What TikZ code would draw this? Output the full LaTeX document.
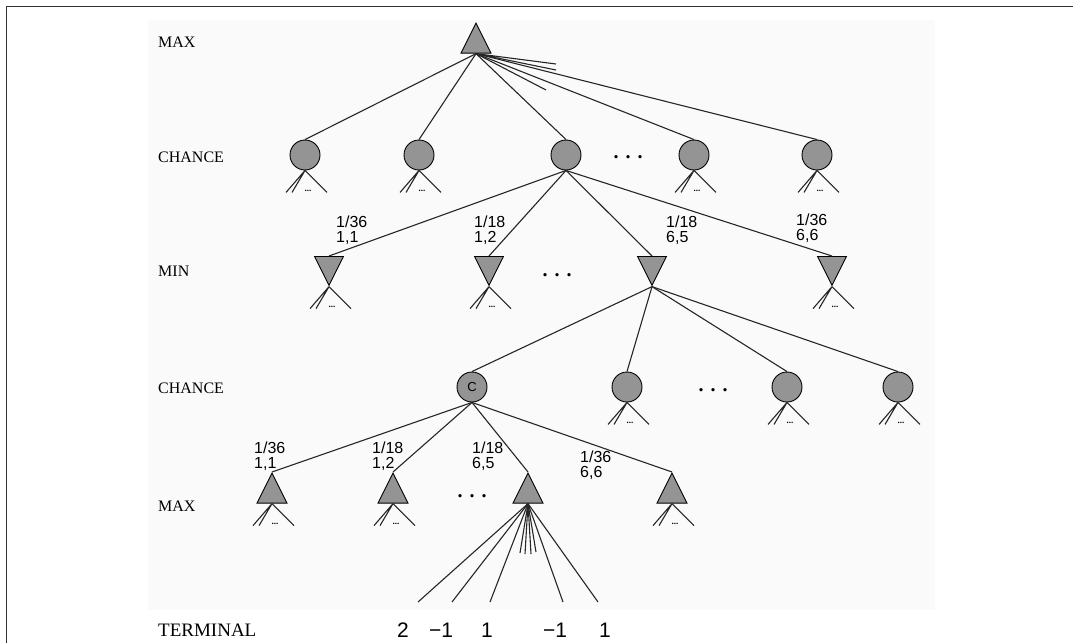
\documentclass[tikz,border=0pt]{standalone}
\usepackage{fontspec}
\setmainfont{Liberation Serif}
\newfontfamily\hv{Liberation Sans}
\usetikzlibrary{shapes.geometric,calc}
\tikzset{
 edge/.style={line width=1.1pt, black!85},
 shade/.style={draw=black, line width=0.9pt, fill=black!42},
 chance/.style={shade, circle, minimum size=30pt, inner sep=0pt},
 maxnode/.style={shade, isosceles triangle, isosceles triangle stretches, shape border rotate=90, minimum width=30pt, minimum height=30pt, inner sep=0pt},
 minnode/.style={shade, isosceles triangle, isosceles triangle stretches, shape border rotate=270, minimum width=29pt, minimum height=29pt, inner sep=0pt},
 rowlabel/.style={anchor=west, font=\fontsize{16}{16}\selectfont, inner sep=0pt},
 prob/.style={anchor=north west, font=\hv\fontsize{16}{14.5}\selectfont, align=left, inner sep=0pt},
 term/.style={font=\hv\fontsize{21}{21}\selectfont, inner sep=0pt},
 bigdots/.style={font=\fontsize{20}{20}\selectfont\bfseries, inner sep=0pt, anchor=base},
 smalldots/.style={font=\fontsize{9}{9}\selectfont\bfseries, inner sep=0pt, anchor=base},
}
\newcommand\fanout[2]{%
  \coordinate (#1a) at ($(#2)+(-19,22)$);
  \coordinate (#1b) at ($(#2)+(-13,22)$);
  \coordinate (#1c) at ($(#2)+(22,22)$);
  \draw[edge] (#2) -- (#1a) (#2) -- (#1b) (#2) -- (#1c);
  \node[smalldots] (#1d) at ($(#2)+(3,21)$) {...};
}
\begin{document}
\begin{tikzpicture}[x=1pt,y=-1pt]
\useasboundingbox (0,0) rectangle (1073,643);
\fill[black!2] (148,20) rectangle (935,610);
\draw[line width=1pt, black!80] (6,643) -- (6,6) -- (1073,6);

% row labels
\node[rowlabel] (l1) at (158,42) {MAX};
\node[rowlabel] (l2) at (158,157) {CHANCE};
\node[rowlabel] (l3) at (158,271) {MIN};
\node[rowlabel] (l4) at (158,388) {CHANCE};
\node[rowlabel] (l5) at (158,506) {MAX};
\node[rowlabel, font=\fontsize{19}{19}\selectfont] (l6) at (158,630) {TERMINAL};

% root
\node[maxnode, anchor=apex] (r) at (476,22) {};
% chance row 1
\node[chance] (c11) at (305,155) {};
\node[chance] (c12) at (419,155) {};
\node[chance] (c13) at (566,155) {};
\node[chance] (c14) at (694,155) {};
\node[chance] (c15) at (817,155) {};
\node[bigdots] (d1) at (628,158) {.\hspace{7pt}.\hspace{7pt}.};
\foreach \c in {c11,c12,c13,c14,c15} \draw[edge] (r.lower side) -- (\c.north);
\coordinate (e1) at (556,64);
\coordinate (e2) at (556,70);
\coordinate (e3) at (546,90);
\draw[edge] (r.lower side) -- (e1) (r.lower side) -- (e2) (r.lower side) -- (e3);
\fanout{s11}{c11.south}
\fanout{s12}{c12.south}
\fanout{s14}{c14.south}
\fanout{s15}{c15.south}

% MIN row
\node[minnode, anchor=lower side] (m1) at (329,256) {};
\node[minnode, anchor=lower side] (m2) at (489,256) {};
\node[minnode, anchor=lower side] (m3) at (652,256) {};
\node[minnode, anchor=lower side] (m4) at (832,256) {};
\node[bigdots] (d2) at (557,276) {.\hspace{7pt}.\hspace{7pt}.};
\foreach \m in {m1,m2,m3,m4} \draw[edge] (c13.south) -- (\m.lower side);
\node[prob] (p11) at (336,216) {1/36\\1,1};
\node[prob] (p12) at (474,216) {1/18\\1,2};
\node[prob] (p13) at (666,216) {1/18\\6,5};
\node[prob] (p14) at (796,214) {1/36\\6,6};
\fanout{s21}{m1.apex}
\fanout{s22}{m2.apex}
\fanout{s24}{m4.apex}

% chance row 2
\node[chance] (c21) at (472,387) {\hv\fontsize{13}{13}\selectfont C};
\node[chance] (c22) at (627,387) {};
\node[chance] (c23) at (787,387) {};
\node[chance] (c24) at (898,387) {};
\node[bigdots] (d3) at (713,391) {.\hspace{7pt}.\hspace{7pt}.};
\foreach \c in {c21,c22,c23,c24} \draw[edge] (m3.apex) -- (\c.north);
\fanout{s32}{c22.south}
\fanout{s33}{c23.south}
\fanout{s34}{c24.south}

% MAX row 2
\node[maxnode, anchor=apex] (x1) at (272,472) {};
\node[maxnode, anchor=apex] (x2) at (393,472) {};
\node[maxnode, anchor=apex] (x3) at (528,472) {};
\node[maxnode, anchor=apex] (x4) at (672,472) {};
\node[bigdots] (d4) at (472,497) {.\hspace{7pt}.\hspace{7pt}.};
\foreach \x in {x1,x2,x3,x4} \draw[edge] (c21.south) -- (\x.apex);
\node[prob] (p21) at (254,442) {1/36\\1,1};
\node[prob] (p22) at (372,442) {1/18\\1,2};
\node[prob] (p23) at (472,442) {1/18\\6,5};
\node[prob] (p24) at (580,451) {1/36\\6,6};
\fanout{s41}{x1.lower side}
\fanout{s42}{x2.lower side}
\fanout{s44}{x4.lower side}

% terminal fan
\coordinate (t1) at (418,602);
\coordinate (t2) at (452,602);
\coordinate (t3) at (490,602);
\coordinate (t4) at (563,602);
\coordinate (t5) at (598,602);
\coordinate (u1) at (520,553);
\coordinate (u2) at (525,554);
\coordinate (u3) at (531,554);
\coordinate (u4) at (536,552);
\foreach \t in {t1,t2,t3,t4,t5,u1,u2,u3,u4} \draw[edge] (x3.lower side) -- (\t);
\node[term] (n1) at (403,630) {2};
\node[term] (n2) at (441,630) {−1};
\node[term] (n3) at (487,630) {1};
\node[term] (n4) at (555,630) {−1};
\node[term] (n5) at (605,630) {1};
\end{tikzpicture}
\end{document}
